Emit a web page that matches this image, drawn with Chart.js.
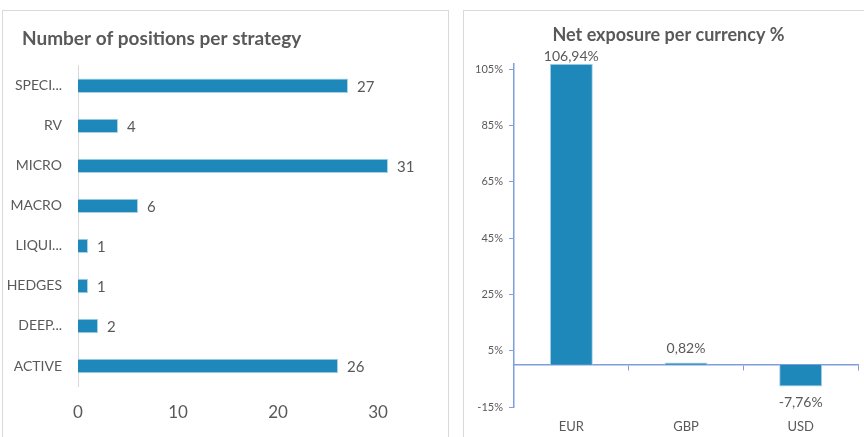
<!DOCTYPE html>
<html>
<head>
<meta charset="utf-8">
<script src="https://cdn.jsdelivr.net/npm/chart.js@4"></script>
<style>
  html, body { margin: 0; padding: 0; background: #fff; overflow: hidden; }
  body { width: 864px; height: 437px; position: relative; }
  .panel { position: absolute; border: 1px solid #d9d9d9; background: #fff; }
  #p1 { left: 2px; top: 10px; width: 445px; height: 440px; }
  #p2 { left: 463px; top: 10px; width: 412px; height: 440px; }
  .panel canvas { position: absolute; left: 0; top: 0; }
</style>
</head>
<body>
<div class="panel" id="p1"><canvas id="strategyChart" width="445" height="427"></canvas></div>
<div class="panel" id="p2"><canvas id="currencyChart" width="412" height="427"></canvas></div>
<script>
const strategies = ['SPECI...', 'RV', 'MICRO', 'MACRO', 'LIQUI...', 'HEDGES', 'DEEP...', 'ACTIVE'];
const positions = [27, 4, 31, 6, 1, 1, 2, 26];
const strategyTicks = [0, 10, 20, 30];

const currencies = ['EUR', 'GBP', 'USD'];
const exposure = [106.94, 0.82, -7.76];
const exposureTicks = [-15, 5, 25, 45, 65, 85, 105];

const barColor = '#1f88ba';
const textColor = '#595959';
const axisBlue = '#7f9fdc';
const fontFamily = 'Lato, "Open Sans", sans-serif';

// draws the value next to each bar (no datalabels plugin available offline)
const valueLabels = {
    id: 'valueLabels',
    afterDatasetsDraw(chart, args, opts) {
        const ctx = chart.ctx;
        const meta = chart.getDatasetMeta(0);
        const data = chart.data.datasets[0].data;
        ctx.save();
        ctx.fillStyle = textColor;
        ctx.font = opts.size + 'px ' + fontFamily;
        meta.data.forEach((bar, i) => {
            const v = data[i];
            const txt = opts.format(v);
            if (opts.horizontal) {
                ctx.textAlign = 'left';
                ctx.textBaseline = 'middle';
                ctx.fillText(txt, bar.x + 9, bar.y + 1);
            } else if (v >= 0) {
                // kept inside the plot area, like the spreadsheet does
                ctx.textAlign = 'center';
                ctx.textBaseline = 'bottom';
                ctx.fillText(txt, bar.x, Math.max(bar.y - 7, chart.chartArea.top));
            } else {
                ctx.textAlign = 'center';
                ctx.textBaseline = 'top';
                ctx.fillText(txt, bar.x, bar.y + 9);
            }
        });
        ctx.restore();
    }
};

new Chart(document.getElementById('strategyChart'), {
    type: 'bar',
    data: {
        labels: strategies,
        datasets: [{
            data: positions,
            backgroundColor: barColor,
            borderColor: '#a9d2e6',
            borderWidth: 1,
            barPercentage: 0.36,
            categoryPercentage: 1
        }]
    },
    options: {
        indexAxis: 'y',
        responsive: false,
        animation: false,
        layout: { padding: { left: 0, right: 20, top: 0, bottom: 0 } },
        scales: {
            x: {
                min: 0,
                max: 35,
                grid: { display: false, drawTicks: false },
                border: { display: false },
                afterBuildTicks: axis => { axis.ticks = strategyTicks.map(v => ({ value: v })); },
                afterFit: axis => { axis.height = 52; },
                ticks: { color: textColor, font: { family: fontFamily, size: 17 }, padding: 16 }
            },
            y: {
                grid: { display: false, drawTicks: false },
                border: { display: true, color: '#d9d9d9', width: 1 },
                afterFit: axis => { axis.width = 75; },
                ticks: { color: textColor, font: { family: fontFamily, size: 14 }, padding: 16 }
            }
        },
        plugins: {
            legend: { display: false },
            tooltip: { enabled: false },
            title: {
                display: true,
                text: 'Number of positions per strategy',
                align: 'start',
                color: textColor,
                font: { family: fontFamily, size: 19, weight: 'bold' },
                padding: { top: 16, bottom: 16 }
            },
            valueLabels: { size: 15, horizontal: true, format: v => String(v) }
        }
    },
    plugins: [valueLabels, {
        id: 'titleIndent',
        beforeDraw(chart) { chart.titleBlock.left = 19; }
    }]
});

new Chart(document.getElementById('currencyChart'), {
    type: 'bar',
    data: {
        labels: currencies,
        datasets: [{
            data: exposure,
            backgroundColor: barColor,
            borderColor: '#a9d2e6',
            borderWidth: 1,
            barPercentage: 0.375,
            categoryPercentage: 1,
            xAxisID: 'x'
        }]
    },
    options: {
        responsive: false,
        animation: false,
        layout: { padding: { left: 0, right: 18, top: 0, bottom: 0 } },
        scales: {
            x: {
                position: { y: 0 },
                ticks: { display: false },
                grid: { offset: true, drawOnChartArea: false, color: axisBlue, tickLength: 5 },
                border: { display: true, color: axisBlue, width: 1.5 }
            },
            x2: {
                type: 'category',
                position: 'bottom',
                labels: currencies,
                grid: { display: false, drawTicks: false },
                border: { display: false },
                afterFit: axis => { axis.height = 31; },
                ticks: { color: textColor, font: { family: fontFamily, size: 13 }, padding: 12 }
            },
            y: {
                min: -15,
                max: 107,
                afterBuildTicks: axis => { axis.ticks = exposureTicks.map(v => ({ value: v })); },
                afterFit: axis => { axis.width = 50; },
                grid: { drawOnChartArea: false, color: axisBlue, tickLength: 5 },
                border: { display: true, color: axisBlue, width: 1.5 },
                ticks: {
                    color: textColor,
                    font: { family: fontFamily, size: 11 },
                    padding: 6,
                    callback: v => v + '%'
                }
            }
        },
        plugins: {
            legend: { display: false },
            tooltip: { enabled: false },
            title: {
                display: true,
                text: 'Net exposure per currency %',
                color: textColor,
                font: { family: fontFamily, size: 18, weight: 'bold' },
                padding: { top: 13, bottom: 18 }
            },
            valueLabels: { size: 14, horizontal: false, format: v => v.toFixed(2).replace('.', ',') + '%' }
        }
    },
    plugins: [valueLabels, {
        id: 'titleCenter',
        beforeDraw(chart) { chart.titleBlock.left = 15; }
    }]
});
</script>
</body>
</html>
